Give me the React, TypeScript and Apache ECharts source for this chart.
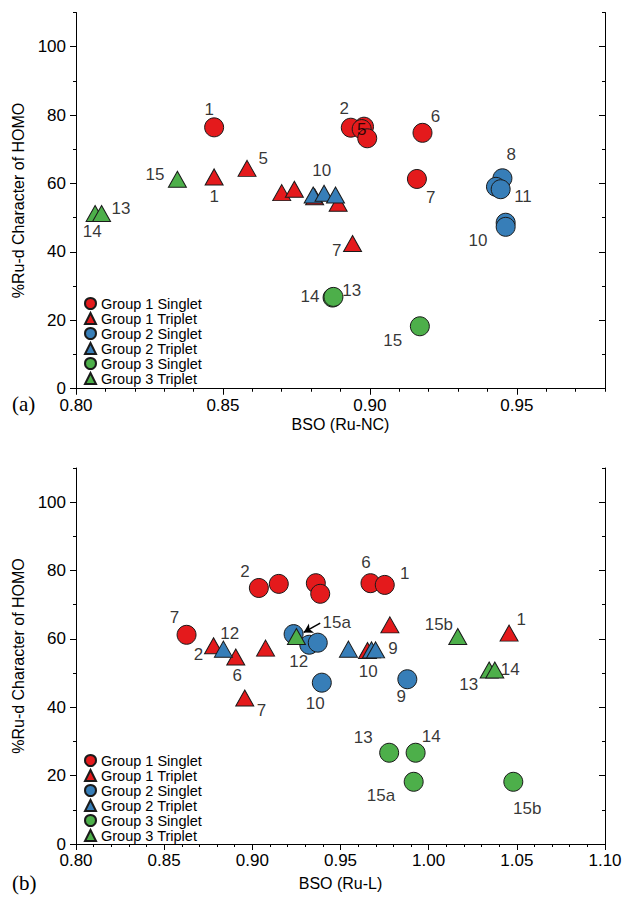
import React, { useEffect, useRef } from "react";
import * as echarts from "echarts";

const FONT = "'Liberation Sans', Arial, sans-serif";
const RED = "#E41A1C";
const BLUE = "#377EB8";
const GREEN = "#4DAF4A";

const seriesNames = [
  "Group 1 Singlet",
  "Group 1 Triplet",
  "Group 2 Singlet",
  "Group 2 Triplet",
  "Group 3 Singlet",
  "Group 3 Triplet",
];

// Panel (a): BSO (Ru-NC)
const aG1S = [[0.847, 76.4], [0.8935, 76.3], [0.898, 76.6], [0.8972, 75.9], [0.8991, 73.2], [0.9179, 74.8], [0.916, 61.3]];
const aG1T = [[0.847, 61.9], [0.8582, 64.4], [0.870, 57.3], [0.8743, 58.3], [0.8812, 56.1], [0.8892, 54.2], [0.8941, 42.4]];
const aG2S = [[0.9451, 61.5], [0.9429, 59.0], [0.9445, 58.3], [0.9462, 48.5], [0.9462, 47.3]];
const aG2T = [[0.8807, 56.6], [0.8844, 57.1], [0.8883, 56.6]];
const aG3S = [[0.8873, 26.6], [0.8876, 26.8], [0.917, 18.2]];
const aG3T = [[0.8065, 51.2], [0.8087, 51.2], [0.8345, 61.2]];
const aLabels: [string, number, number][] = [
  ["1", 0.8453, 81.5], ["1", 0.847, 56.3], ["5", 0.8637, 67.3], ["15", 0.8269, 62.6],
  ["13", 0.8153, 52.7], ["14", 0.8055, 46.0], ["2", 0.8913, 82.0], ["5", 0.8972, 75.9],
  ["6", 0.9223, 79.7], ["7", 0.9207, 55.8], ["8", 0.9481, 68.6], ["11", 0.9521, 56.1],
  ["10", 0.9368, 43.4], ["10", 0.8836, 63.9], ["7", 0.8887, 40.5], ["14", 0.8796, 26.8],
  ["13", 0.8938, 28.8], ["15", 0.9078, 14.1],
];
const aXTicks = [0.8, 0.85, 0.9, 0.95];

// Panel (b): BSO (Ru-L)
const bG1S = [[0.9037, 74.9], [0.915, 76.1], [0.936, 76.3], [0.9385, 73.2], [0.8627, 61.2], [0.967, 76.3], [0.9751, 75.8]];
const bG1T = [[0.878, 58.0], [0.8906, 54.7], [0.9075, 57.3], [0.8957, 42.7], [0.978, 64.1], [0.9653, 56.6], [1.0456, 61.7]];
const bG2S = [[0.9234, 61.4], [0.9323, 58.3], [0.9371, 58.9], [0.9394, 47.2], [0.9879, 48.2]];
const bG2T = [[0.8836, 57.0], [0.9545, 57.0], [0.9676, 56.8], [0.9699, 56.8]];
const bG3S = [[0.9776, 26.7], [0.9926, 26.7], [0.9915, 18.2], [1.048, 18.2]];
const bG3T = [[0.925, 60.7], [1.0165, 60.7], [1.0343, 50.9], [1.0375, 50.9]];
const bLabels: [string, number, number][] = [
  ["2", 0.8958, 79.7], ["7", 0.8558, 66.4], ["12", 0.8872, 61.5], ["2", 0.8695, 55.3],
  ["6", 0.8915, 49.2], ["7", 0.9052, 39.2], ["12", 0.9263, 53.4], ["10", 0.9357, 41.2],
  ["15a", 0.9479, 64.8], ["6", 0.9644, 82.5], ["1", 0.9864, 79.2], ["9", 0.9798, 57.3],
  ["10", 0.9657, 50.4], ["9", 0.9845, 43.1], ["15b", 1.0058, 64.1], ["1", 1.0525, 65.8],
  ["14", 1.0462, 51.1], ["13", 1.0227, 46.8], ["14", 1.0014, 31.4], ["13", 0.9629, 31.3],
  ["15a", 0.973, 14.3], ["15b", 1.0559, 10.5],
];
const bArrow = [[0.9385, 64.6], [0.9291, 61.9]];
const bXTicks = [0.8, 0.85, 0.9, 0.95, 1.0, 1.05, 1.1];

const yTicks = [0, 20, 40, 60, 80, 100];

const axisColor = "#000";

function xAxes(grid: number, min: number, max: number, ticks: number[], name: string, nameGap: number) {
  const common = { gridIndex: grid, type: "value", min, max, splitLine: { show: false } };
  return [
    {
      ...common,
      position: "bottom",
      interval: 0.05,
      axisLine: { show: true, lineStyle: { color: axisColor, width: 1 } },
      axisTick: { show: true, length: 6, customValues: ticks, lineStyle: { color: axisColor } },
      axisLabel: {
        show: true, customValues: ticks, margin: 8, color: "#000", fontSize: 17, fontFamily: FONT,
        formatter: (v: number) => v.toFixed(2),
      },
      name, nameLocation: "middle", nameGap,
      nameTextStyle: { color: "#000", fontSize: 16, fontFamily: FONT },
    },
    {
      ...common, position: "bottom", interval: 0.01,
      axisLine: { show: false },
      axisTick: { show: true, length: 3, lineStyle: { color: axisColor } },
      axisLabel: { show: false },
    },
    {
      ...common, position: "top", interval: 0.05,
      axisLine: { show: true, lineStyle: { color: axisColor, width: 1 } },
      axisTick: { show: true, inside: true, length: 6, customValues: ticks, lineStyle: { color: axisColor } },
      axisLabel: { show: false },
    },
    {
      ...common, position: "top", interval: 0.01,
      axisLine: { show: false },
      axisTick: { show: true, inside: true, length: 3, lineStyle: { color: axisColor } },
      axisLabel: { show: false },
    },
  ];
}

function yAxes(grid: number) {
  const common = { gridIndex: grid, type: "value", min: 0, max: 110, splitLine: { show: false } };
  return [
    {
      ...common, position: "left", interval: 20,
      axisLine: { show: true, lineStyle: { color: axisColor, width: 1 } },
      axisTick: { show: true, length: 6, customValues: yTicks, lineStyle: { color: axisColor } },
      axisLabel: { show: true, customValues: yTicks, margin: 10, color: "#000", fontSize: 17, fontFamily: FONT },
      name: "%Ru-d Character of HOMO", nameLocation: "middle", nameGap: 41,
      nameTextStyle: { color: "#000", fontSize: 16, fontFamily: FONT },
    },
    {
      ...common, position: "left", interval: 10,
      axisLine: { show: false },
      axisTick: { show: true, length: 3, lineStyle: { color: axisColor } },
      axisLabel: { show: false },
    },
    {
      ...common, position: "right", interval: 20,
      axisLine: { show: true, lineStyle: { color: axisColor, width: 1 } },
      axisTick: { show: true, inside: true, length: 6, customValues: yTicks, lineStyle: { color: axisColor } },
      axisLabel: { show: false },
    },
    {
      ...common, position: "right", interval: 10,
      axisLine: { show: false },
      axisTick: { show: true, inside: true, length: 3, lineStyle: { color: axisColor } },
      axisLabel: { show: false },
    },
  ];
}

function panelSeries(grid: number, groups: number[][][], labels: [string, number, number][], arrow?: number[][]) {
  const colors = [RED, RED, BLUE, BLUE, GREEN, GREEN];
  const out: any[] = groups.map((data, i) => {
    const isTri = i % 2 === 1;
    return {
      type: "scatter",
      name: seriesNames[i],
      xAxisIndex: grid * 4,
      yAxisIndex: grid * 4,
      symbol: isTri ? "triangle" : "circle",
      symbolSize: isTri ? [18, 16] : 19,
      itemStyle: { color: colors[i], borderColor: "#1a1a1a", borderWidth: 1, opacity: 1 },
      data,
      z: 2 + i * 0.1,
    };
  });
  const labelSeries: any = {
    type: "scatter",
    name: "labels" + grid,
    xAxisIndex: grid * 4,
    yAxisIndex: grid * 4,
    symbol: "circle",
    symbolSize: 0.1,
    itemStyle: { color: "transparent" },
    silent: true,
    z: 5,
    label: {
      show: true, position: "inside", color: "#000", fontSize: 17, fontFamily: FONT,
      formatter: (p: any) => p.name,
    },
    data: labels.map(([t, x, y]) => ({ name: t, value: [x, y] })),
  };
  if (arrow) {
    labelSeries.markLine = {
      silent: true,
      symbol: ["none", "arrow"],
      symbolSize: [8, 9],
      label: { show: false },
      lineStyle: { color: "#000", width: 1.5, type: "solid" },
      data: [[{ coord: arrow[0] }, { coord: arrow[1] }]],
    };
  }
  out.push(labelSeries);
  return out;
}

function legendFor(top: number) {
  return {
    data: seriesNames,
    orient: "vertical",
    left: 84,
    top,
    padding: 0,
    itemGap: 0,
    itemWidth: 11,
    itemHeight: 11,
    selectedMode: false,
    textStyle: { color: "#000", fontSize: 14.5, fontFamily: FONT, lineHeight: 14.7 },
  };
}

export default function App() {
  const ref = useRef<HTMLDivElement>(null);
  useEffect(() => {
    if (!ref.current) return;
    const chart = echarts.init(ref.current, undefined, { renderer: "svg" });
    const option: any = {
      animation: false,
      backgroundColor: "#fff",
      grid: [
        { left: 76, right: 21, top: 12.5, height: 376 },
        { left: 76, right: 21, top: 468, height: 376 },
      ],
      xAxis: [
        ...xAxes(0, 0.8, 0.98, aXTicks, "BSO (Ru-NC)", 28),
        ...xAxes(1, 0.8, 1.1, bXTicks, "BSO (Ru-L)", 31),
      ],
      yAxis: [...yAxes(0), ...yAxes(1)],
      legend: [legendFor(296), legendFor(753)],
      series: [
        ...panelSeries(0, [aG1S, aG1T, aG2S, aG2T, aG3S, aG3T], aLabels),
        ...panelSeries(1, [bG1S, bG1T, bG2S, bG2T, bG3S, bG3T], bLabels, bArrow),
      ],
      graphic: [
        { type: "text", left: 12, top: 393, style: { text: "(a)", font: "21px 'Liberation Serif', 'Times New Roman', serif", fill: "#000" } },
        { type: "text", left: 12, top: 872, style: { text: "(b)", font: "21px 'Liberation Serif', 'Times New Roman', serif", fill: "#000" } },
      ],
    };
    chart.setOption(option);
    return () => chart.dispose();
  }, []);
  return (
    <div
      ref={ref}
      style={{ position: "fixed", left: 0, top: 0, width: 626, height: 909, background: "#fff" }}
    />
  );
}
